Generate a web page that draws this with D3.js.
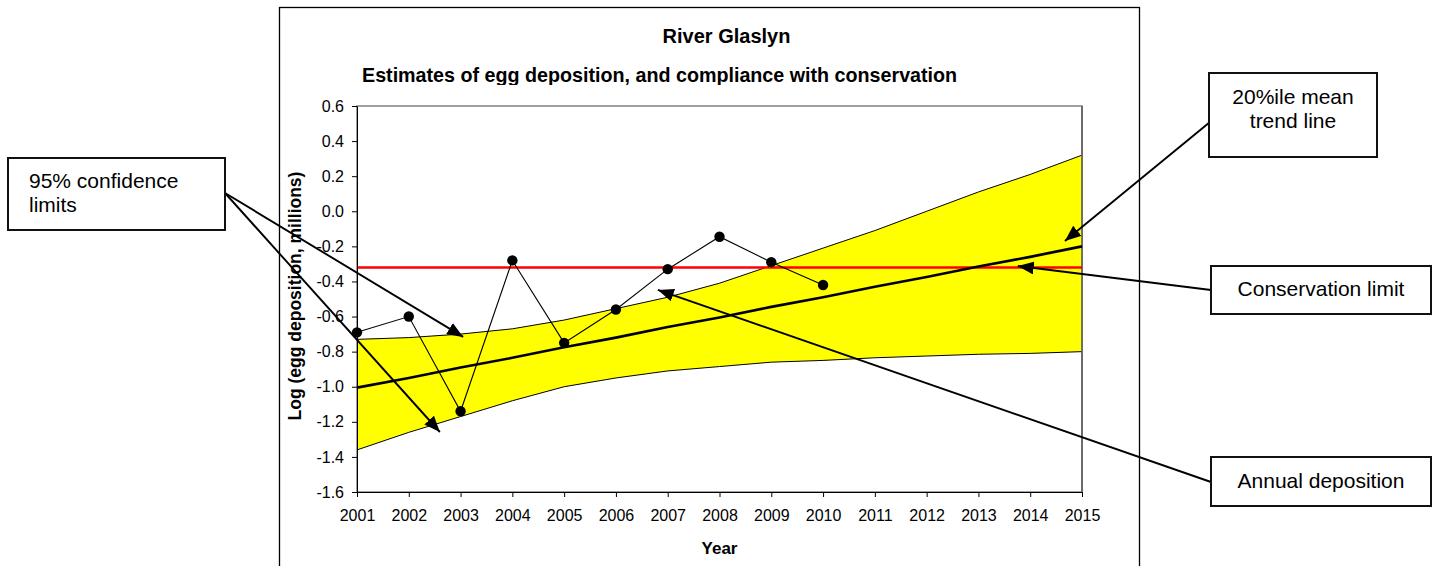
<!DOCTYPE html>
<html>
<head>
<meta charset="utf-8">
<script src="https://cdn.jsdelivr.net/npm/d3@7"></script>
<style>
body { margin: 0; background: #fff; }
svg { display: block; font-family: "Liberation Sans", Arial, sans-serif; }
</style>
</head>
<body>
<script>
// data
var years = [2001, 2002, 2003, 2004, 2005, 2006, 2007, 2008, 2009, 2010, 2011, 2012, 2013, 2014, 2015];
var annualYears = [2001, 2002, 2003, 2004, 2005, 2006, 2007, 2008, 2009, 2010];
var annual = [-0.69, -0.60, -1.14, -0.28, -0.75, -0.56, -0.33, -0.145, -0.29, -0.42];
var upper = [-0.73, -0.72, -0.70, -0.67, -0.62, -0.555, -0.49, -0.41, -0.31, -0.21, -0.11, 0.0, 0.11, 0.21, 0.32];
var lower = [-1.36, -1.26, -1.17, -1.08, -1.00, -0.95, -0.91, -0.885, -0.86, -0.85, -0.835, -0.825, -0.815, -0.81, -0.80];
var trend = [-1.005, -0.95, -0.89, -0.835, -0.775, -0.72, -0.66, -0.605, -0.545, -0.49, -0.43, -0.375, -0.315, -0.26, -0.20];
var conservationLimit = -0.32;
var yTicks = [-1.6, -1.4, -1.2, -1.0, -0.8, -0.6, -0.4, -0.2, 0, 0.2, 0.4, 0.6];

// callouts: box in page pixels, arrow tips in data units
var callouts = [
  { lines: ["95% confidence", "limits"], box: [8, 158, 217, 72], align: "start", tx: 29, ty: 188,
    from: [225, 193], tips: [[2003.05, -0.716], [2002.6, -1.258]] },
  { lines: ["20%ile mean", "trend line"], box: [1209, 73, 168, 84], align: "middle", tx: 1293, ty: 104,
    from: [1210, 122], tips: [[2014.67, -0.169]] },
  { lines: ["Conservation limit"], box: [1211, 266, 220, 48], align: "middle", tx: 1321, ty: 296,
    from: [1211, 290], tips: [[2013.76, -0.312]] },
  { lines: ["Annual deposition"], box: [1211, 457, 220, 49], align: "middle", tx: 1321, ty: 488,
    from: [1211, 482], tips: [[2006.81, -0.448]] }
];

var svg = d3.select('body').append('svg')
  .attr('width', 1432)
  .attr('height', 566);

var x = d3.scaleLinear().domain([2001, 2015]).range([357, 1082]);
var y = d3.scaleLinear().domain([-1.6, 0.6]).range([492, 106]);

var defs = svg.append('defs');
defs.append('marker')
  .attr('id', 'arrow')
  .attr('viewBox', '0 0 16 13')
  .attr('refX', 16).attr('refY', 6.5)
  .attr('markerWidth', 16).attr('markerHeight', 13)
  .attr('markerUnits', 'userSpaceOnUse')
  .attr('orient', 'auto')
  .append('path').attr('d', 'M0,0 L16,6.5 L0,13 Z').attr('fill', '#000');

defs.append('clipPath').attr('id', 'subclip')
  .append('rect').attr('x', 0).attr('y', 0).attr('width', 1432).attr('height', 85);

// chart frame
svg.append('rect')
  .attr('x', 279.5).attr('y', 7.5)
  .attr('width', 860).attr('height', 600)
  .attr('fill', '#fff').attr('stroke', '#000').attr('stroke-width', 1.3);

// titles
svg.append('text')
  .attr('x', 726.5).attr('y', 43)
  .attr('text-anchor', 'middle')
  .style('font-weight', 'bold').style('font-size', '20px')
  .text('River Glaslyn');

svg.append('text')
  .attr('x', 362).attr('y', 81.7)
  .attr('clip-path', 'url(#subclip)')
  .style('font-weight', 'bold').style('font-size', '19.7px')
  .text('Estimates of egg deposition, and compliance with conservation');

// plot area
svg.append('rect')
  .attr('x', 357).attr('y', 106)
  .attr('width', 725).attr('height', 386)
  .attr('fill', '#fff').attr('stroke', '#808080').attr('stroke-width', 1.5);

var band = years.map(function(d, i) { return { year: d, lo: lower[i], hi: upper[i] }; });

svg.append('path')
  .datum(band)
  .attr('fill', '#ffff00')
  .attr('d', d3.area()
    .x(function(d) { return x(d.year); })
    .y0(function(d) { return y(d.lo); })
    .y1(function(d) { return y(d.hi); }));

var edge = function(key) {
  return d3.line()
    .x(function(d) { return x(d.year); })
    .y(function(d) { return y(d[key]); });
};
svg.append('path').datum(band).attr('fill', 'none').attr('stroke', '#000').attr('stroke-width', 1).attr('d', edge('hi'));
svg.append('path').datum(band).attr('fill', 'none').attr('stroke', '#000').attr('stroke-width', 1).attr('d', edge('lo'));

// re-stroke the right border over the band
svg.append('line')
  .attr('x1', 1082).attr('x2', 1082).attr('y1', 106).attr('y2', 492)
  .attr('stroke', '#666').attr('stroke-width', 1.8);

// conservation limit
svg.append('line')
  .attr('x1', x(2001)).attr('x2', x(2015))
  .attr('y1', y(conservationLimit)).attr('y2', y(conservationLimit))
  .attr('stroke', '#ff0000').attr('stroke-width', 2.5);

// trend line
svg.append('path')
  .datum(years)
  .attr('fill', 'none').attr('stroke', '#000').attr('stroke-width', 2.6)
  .attr('d', d3.line()
    .x(function(d) { return x(d); })
    .y(function(d, i) { return y(trend[i]); }));

// annual deposition
svg.append('path')
  .datum(annualYears)
  .attr('fill', 'none').attr('stroke', '#000').attr('stroke-width', 1.1)
  .attr('d', d3.line()
    .x(function(d) { return x(d); })
    .y(function(d, i) { return y(annual[i]); }));

svg.append('g').selectAll('circle')
  .data(annualYears)
  .enter().append('circle')
    .attr('cx', function(d) { return x(d); })
    .attr('cy', function(d, i) { return y(annual[i]); })
    .attr('r', 5.2)
    .attr('fill', '#000');

// axes
var yAxis = svg.append('g')
  .attr('transform', 'translate(357,0)')
  .call(d3.axisLeft(y).tickValues(yTicks).tickSize(5).tickSizeOuter(0).tickPadding(8)
    .tickFormat(function(d) { return d.toFixed(1); }));

var xAxis = svg.append('g')
  .attr('transform', 'translate(0,492)')
  .call(d3.axisBottom(x).tickValues(years).tickSize(5).tickSizeOuter(0).tickPadding(13)
    .tickFormat(d3.format('d')));

[yAxis, xAxis].forEach(function(g) {
  g.attr('font-family', null).attr('font-size', null);
  g.selectAll('text').style('font-size', '16px').attr('fill', '#000');
  g.selectAll('line, path').attr('stroke', '#000');
});

svg.append('text')
  .attr('x', 719.5).attr('y', 554)
  .attr('text-anchor', 'middle')
  .style('font-weight', 'bold').style('font-size', '17px')
  .text('Year');

svg.append('text')
  .attr('transform', 'translate(301,296) rotate(-90)')
  .attr('text-anchor', 'middle')
  .style('font-weight', 'bold').style('font-size', '17.5px')
  .text('Log (egg deposition, millions)');

// callouts with arrows
var notes = svg.append('g');

callouts.forEach(function(c) {
  c.tips.forEach(function(t) {
    notes.append('line')
      .attr('x1', c.from[0]).attr('y1', c.from[1])
      .attr('x2', x(t[0])).attr('y2', y(t[1]))
      .attr('stroke', '#000').attr('stroke-width', 1.9)
      .attr('marker-end', 'url(#arrow)');
  });

  notes.append('rect')
    .attr('x', c.box[0]).attr('y', c.box[1])
    .attr('width', c.box[2]).attr('height', c.box[3])
    .attr('fill', '#fff').attr('stroke', '#111').attr('stroke-width', 2);

  c.lines.forEach(function(l, i) {
    notes.append('text')
      .attr('x', c.tx).attr('y', c.ty + i * 24)
      .attr('text-anchor', c.align)
      .style('font-size', '21px')
      .text(l);
  });
});
</script>
</body>
</html>
